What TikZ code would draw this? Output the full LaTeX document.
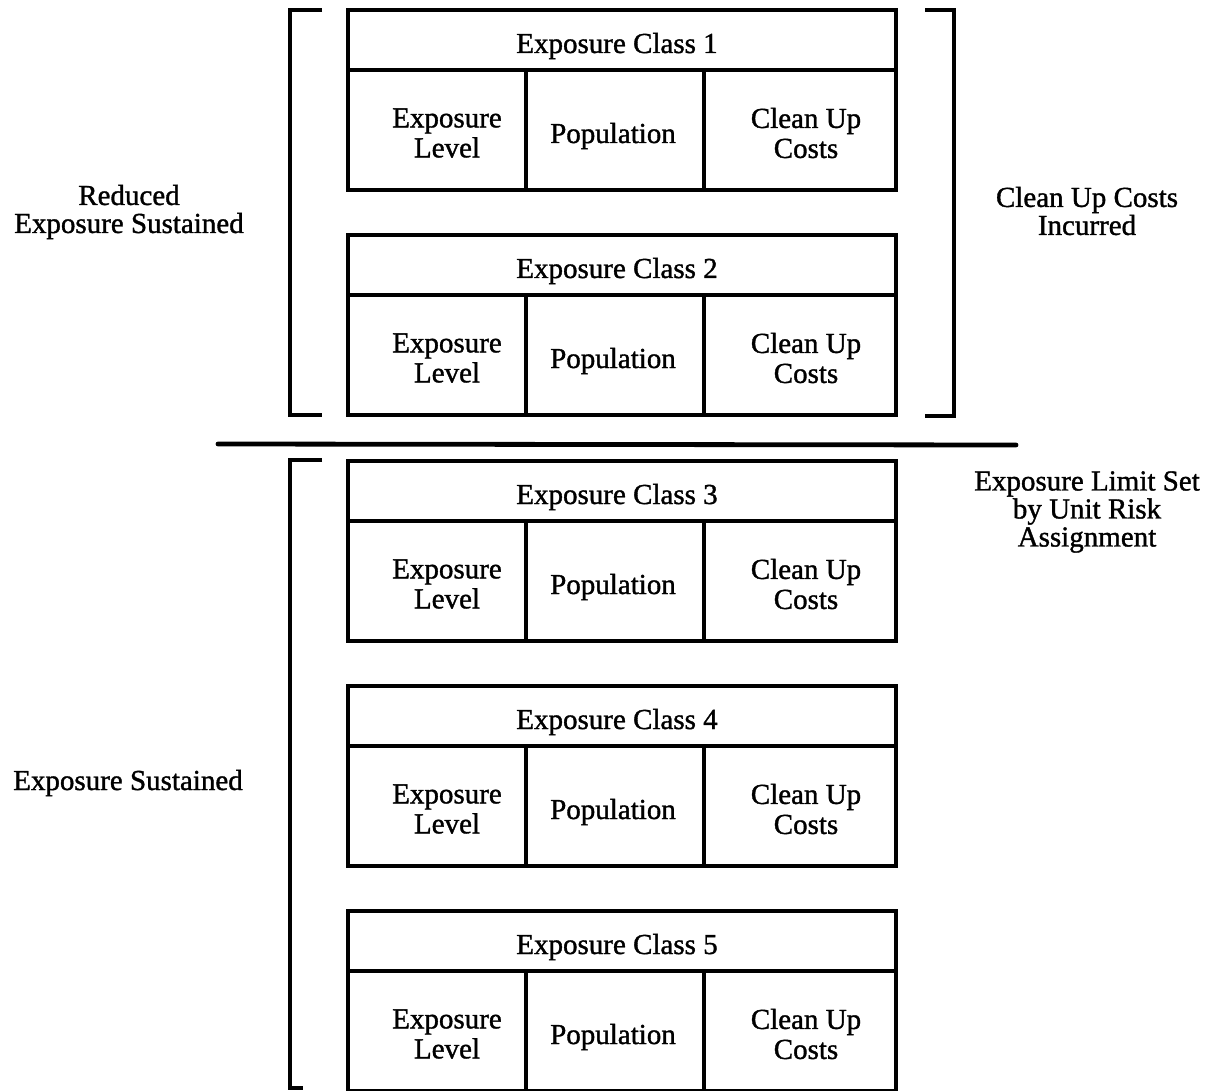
\documentclass[tikz,border=0pt]{standalone}
\usepackage{fontspec}
\setmainfont{Liberation Serif}[FakeBold=1.2]
\begin{document}
\begin{tikzpicture}[x=0.5pt,y=-0.5pt,
  boxline/.style={line width=1.7pt},
  bracketline/.style={line width=1.9pt},
  sepline/.style={line width=2.4pt, line cap=round},
  celltext/.style={font=\fontsize{14.5}{15}\selectfont, align=center, inner sep=0pt},
  sidetext/.style={font=\fontsize{14.5}{14}\selectfont, align=center, inner sep=0pt}
]
\useasboundingbox (0,0) rectangle (1209,1091);

% exposure class boxes
\foreach \t/\k in {10/1,235/2,461/3,686/4,911/5}{
  \draw[boxline] (348,\t) rectangle (896,\t+180);
  \draw[boxline] (348,\t+60) -- (896,\t+60);
  \draw[boxline] (526,\t+60) -- (526,\t+180);
  \draw[boxline] (704,\t+60) -- (704,\t+180);
  \node[celltext, anchor=base] (hdr\k) at (617,\t+43) {Exposure Class \k};
  \node[celltext] (lev\k) at (447,\t+123) {Exposure\\Level};
  \node[celltext, anchor=base] (pop\k) at (613,\t+133) {Population};
  \node[celltext] (cost\k) at (806,\t+123) {Clean Up\\Costs};
}

% brackets
\draw[bracketline] (322,10) -- (290,10) -- (290,415) -- (322,415);
\draw[bracketline] (925,10) -- (954,10) -- (954,416) -- (925,416);
\draw[bracketline] (322,460) -- (290,460) -- (290,1088) -- (303,1088);

% separator
\coordinate (sepL) at (218,444);
\coordinate (sepR) at (1016,445);
\draw[sepline] (sepL) -- (sepR);

% side labels
\node[sidetext] (reduced) at (129,212) {Reduced\\Exposure Sustained};
\node[sidetext] (incurred) at (1087,211) {Clean Up Costs\\Incurred};
\node[sidetext] (limit) at (1087,512) {Exposure Limit Set\\by Unit Risk\\Assignment};
\node[sidetext, anchor=base] (sustained) at (128,790) {Exposure Sustained};
\end{tikzpicture}
\end{document}
